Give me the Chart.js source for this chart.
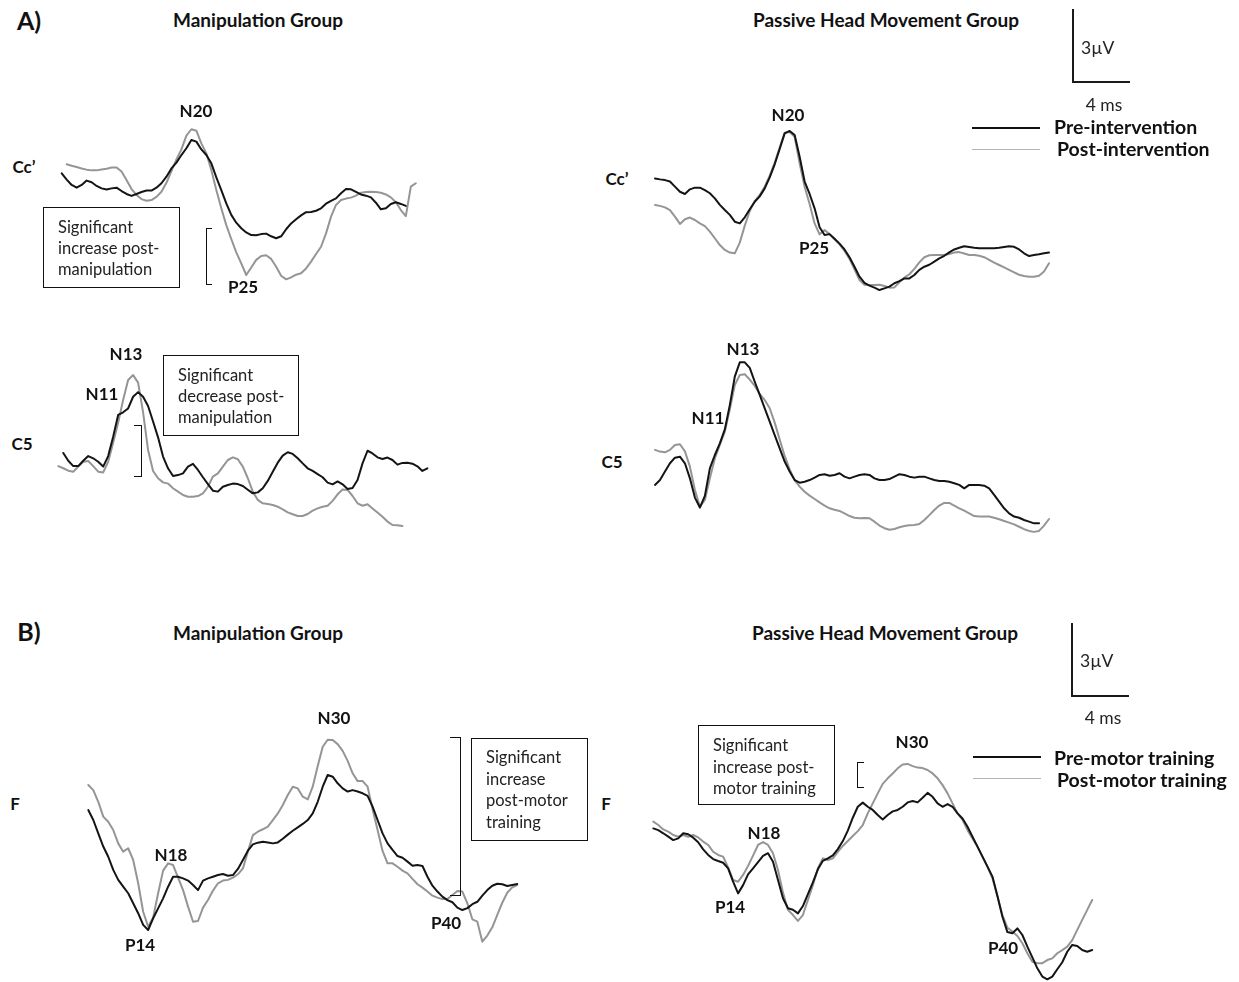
<!DOCTYPE html>
<html>
<head>
<meta charset="utf-8">
<script src="https://cdn.jsdelivr.net/npm/chart.js@4"></script>
<style>
  html, body { margin: 0; padding: 0; background: #fff; }
  body { width: 1239px; height: 982px; position: relative; overflow: hidden; font-family: Lato, "Open Sans", sans-serif; color: #111; }
  canvas { position: absolute; }
  .txt { position: absolute; transform: translate(-50%, -50%); white-space: nowrap; line-height: 1; }
  .txt.left { transform: translate(0, -50%); }
  .section { font-weight: 700; font-size: 25px; }
  .title { font-weight: 700; font-size: 19px; }
  .peak { font-weight: 700; font-size: 17px; }
  .lead { font-weight: 700; font-size: 17px; }
  .note { font-size: 16.5px; color: #222; }
  .scale { font-size: 17.5px; color: #222; }
  .legend { font-weight: 700; font-size: 19.5px; }
  .box { position: absolute; border: 1.5px solid #111; box-sizing: border-box; }
  .bracket { position: absolute; box-sizing: border-box; border: 1.5px solid #111; }
  .bracket.open { border-right: none; }
  .bracket.close { border-left: none; }
  .key { position: absolute; height: 0; }
</style>
</head>
<body>
<script>
// Averaged SEP traces, sampled every SAMPLE_MS milliseconds (amplitudes in µV)
const SAMPLE_MS = 0.35;
const PX_PER_MS = 14.25;
const PX_PER_UV = 24.33;
const SCALE_BAR_UV = 3;
const SCALE_BAR_MS = 4;

const PRE_COLOR = '#141414';
const POST_COLOR = '#959595';

// A) Cc' — manipulation group
const ccManipPre = [1.92,1.66,1.44,1.33,1.44,1.62,1.55,1.40,1.30,1.25,1.30,1.33,1.19,1.07,0.99,1.07,1.15,1.21,1.21,1.33,1.51,1.78,2.12,2.36,2.67,2.95,3.29,3.22,2.90,2.67,2.33,1.75,1.23,0.68,0.21,-0.11,-0.34,-0.51,-0.62,-0.63,-0.58,-0.56,-0.67,-0.75,-0.67,-0.38,-0.14,0.03,0.19,0.32,0.33,0.38,0.48,0.67,0.79,0.89,1.10,1.27,1.26,1.16,1.05,1.00,0.93,0.71,0.44,0.48,0.66,0.73,0.66,0.58];
const ccManipPost = [2.29,2.23,2.18,2.12,2.07,2.04,2.04,2.08,2.11,2.16,2.16,1.99,1.64,1.27,1.03,0.86,0.79,0.82,0.95,1.16,1.53,2.01,2.49,2.90,3.47,3.73,3.67,3.15,2.74,2.05,1.23,0.48,-0.21,-0.78,-1.33,-1.78,-2.26,-1.95,-1.64,-1.48,-1.45,-1.60,-1.92,-2.29,-2.44,-2.36,-2.25,-2.19,-1.99,-1.71,-1.40,-1.10,-0.55,0.14,0.62,0.82,0.88,0.92,1.00,1.12,1.15,1.16,1.15,1.12,1.05,0.93,0.73,0.41,0.16,1.37,1.51];

// A) Cc' — passive head movement group
const ccPassivePre = [1.71,1.67,1.64,1.58,1.37,1.16,1.07,1.26,1.33,1.33,1.23,1.10,0.89,0.62,0.41,0.21,-0.07,-0.14,0.11,0.44,0.75,0.97,1.30,1.75,2.29,2.92,3.56,3.66,3.49,2.60,1.58,1.07,0.48,-0.30,-0.62,-0.58,-0.77,-0.97,-1.21,-1.53,-1.92,-2.33,-2.58,-2.70,-2.78,-2.88,-2.81,-2.74,-2.60,-2.51,-2.40,-2.40,-2.26,-2.05,-1.92,-1.84,-1.71,-1.58,-1.47,-1.33,-1.21,-1.14,-1.08,-1.11,-1.14,-1.16,-1.16,-1.16,-1.16,-1.14,-1.11,-1.08,-1.10,-1.21,-1.37,-1.48,-1.44,-1.41,-1.37,-1.34];
const ccPassivePost = [0.62,0.58,0.52,0.41,0.14,-0.16,0.03,0.10,0.00,-0.14,-0.25,-0.48,-0.75,-1.03,-1.23,-1.34,-1.37,-0.93,-0.23,0.37,0.78,1.03,1.37,1.82,2.36,2.99,3.59,3.62,3.42,2.33,1.37,0.66,-0.14,-0.59,-0.41,-0.58,-0.79,-1.00,-1.27,-1.60,-2.03,-2.47,-2.66,-2.67,-2.67,-2.66,-2.71,-2.78,-2.77,-2.56,-2.37,-2.23,-2.01,-1.74,-1.53,-1.45,-1.44,-1.44,-1.44,-1.40,-1.34,-1.32,-1.38,-1.44,-1.44,-1.47,-1.53,-1.64,-1.75,-1.85,-1.95,-2.05,-2.15,-2.25,-2.30,-2.33,-2.33,-2.29,-2.12,-1.78];

// A) C5 — manipulation group
const c5ManipPre = [0.29,-0.03,-0.25,-0.25,-0.03,0.16,0.07,-0.07,-0.27,0.16,0.96,1.85,1.96,2.12,2.60,2.79,2.60,2.22,1.58,0.93,0.14,-0.34,-0.66,-0.62,-0.55,-0.27,-0.16,-0.41,-0.71,-0.99,-1.26,-1.30,-1.10,-1.03,-0.97,-0.99,-1.07,-1.22,-1.37,-1.33,-1.16,-0.86,-0.48,-0.11,0.18,0.32,0.25,0.07,-0.14,-0.34,-0.45,-0.58,-0.71,-0.93,-1.00,-0.88,-1.00,-1.19,-1.15,-0.82,-0.14,0.38,0.27,0.11,0.04,0.10,0.00,-0.19,-0.12,-0.11,-0.15,-0.26,-0.45,-0.34];
const c5ManipPost = [-0.25,-0.34,-0.44,-0.48,-0.27,-0.07,-0.04,-0.25,-0.48,-0.51,-0.07,0.71,1.53,2.47,3.29,3.49,3.18,1.96,0.41,-0.45,-0.75,-0.92,-0.97,-1.16,-1.30,-1.44,-1.51,-1.51,-1.48,-1.37,-1.10,-0.68,-0.55,-0.27,0.00,0.11,0.03,-0.27,-0.75,-1.30,-1.64,-1.78,-1.81,-1.85,-1.92,-2.03,-2.15,-2.23,-2.30,-2.30,-2.22,-2.08,-1.99,-1.92,-1.88,-1.68,-1.41,-1.21,-1.23,-1.48,-1.78,-1.88,-1.82,-1.99,-2.16,-2.33,-2.53,-2.67,-2.68,-2.71];

// A) C5 — passive head movement group
const c5PassivePre = [-1.23,-1.03,-0.68,-0.34,-0.11,-0.07,-0.34,-0.96,-1.75,-2.16,-1.68,-0.55,0.00,0.48,1.05,2.05,3.22,3.81,3.81,3.58,3.01,2.47,1.92,1.37,0.82,0.27,-0.27,-0.68,-1.03,-1.14,-1.10,-1.03,-0.93,-0.82,-0.79,-0.85,-0.82,-0.75,-0.89,-0.96,-0.89,-0.82,-0.79,-0.82,-0.96,-1.03,-1.03,-0.99,-0.89,-0.79,-0.82,-0.89,-0.93,-0.89,-0.89,-0.96,-1.03,-1.07,-1.07,-1.10,-1.16,-1.23,-1.37,-1.23,-1.23,-1.23,-1.26,-1.37,-1.64,-1.92,-2.19,-2.40,-2.53,-2.58,-2.67,-2.74,-2.81,-2.81];
const c5PassivePost = [0.21,0.14,0.11,0.21,0.41,0.44,0.15,-0.48,-1.44,-2.12,-1.85,-0.96,-0.14,0.41,0.96,1.88,2.88,3.29,3.32,3.10,2.84,2.51,2.26,1.92,1.33,0.64,-0.04,-0.59,-1.03,-1.30,-1.51,-1.67,-1.81,-1.95,-2.08,-2.19,-2.25,-2.30,-2.40,-2.51,-2.58,-2.60,-2.59,-2.60,-2.74,-2.90,-3.01,-3.07,-3.04,-2.97,-2.92,-2.89,-2.88,-2.84,-2.67,-2.47,-2.26,-2.08,-1.97,-1.97,-2.08,-2.19,-2.29,-2.40,-2.51,-2.53,-2.53,-2.53,-2.58,-2.64,-2.71,-2.78,-2.85,-2.95,-3.05,-3.12,-3.16,-3.12,-2.90,-2.63];

// B) F — manipulation group
const fManipPre = [0.82,0.41,-0.14,-0.68,-1.10,-1.64,-2.05,-2.33,-2.60,-3.01,-3.42,-3.90,-4.11,-3.63,-3.22,-2.81,-2.33,-1.92,-1.92,-1.99,-2.08,-2.26,-2.47,-2.08,-1.99,-1.92,-1.85,-1.81,-1.88,-1.85,-1.60,-1.23,-0.85,-0.59,-0.52,-0.48,-0.51,-0.55,-0.51,-0.36,-0.19,-0.03,0.11,0.25,0.41,0.68,1.16,1.78,2.26,2.19,1.92,1.71,1.58,1.64,1.58,1.51,1.40,0.96,0.41,-0.14,-0.55,-0.82,-1.07,-1.14,-1.30,-1.47,-1.44,-1.48,-1.92,-2.29,-2.53,-2.74,-2.88,-2.97,-3.19,-3.29,-3.21,-3.05,-2.95,-2.70,-2.47,-2.29,-2.21,-2.23,-2.30,-2.26,-2.22];
const fManipPost = [1.85,1.64,1.16,0.55,0.34,0.00,-0.55,-0.89,-0.75,-1.23,-2.19,-3.36,-3.97,-3.60,-2.60,-1.67,-1.37,-1.44,-1.96,-2.47,-3.15,-3.77,-3.74,-3.19,-2.88,-2.49,-2.19,-2.08,-2.05,-1.96,-1.82,-1.58,-0.89,-0.21,-0.07,0.03,0.14,0.41,0.68,1.03,1.44,1.78,1.71,1.37,1.26,1.78,2.63,3.42,3.71,3.70,3.53,3.25,2.84,2.33,2.01,2.01,1.78,0.85,0.00,-0.86,-1.37,-1.37,-1.51,-1.67,-1.78,-2.01,-2.23,-2.37,-2.53,-2.70,-2.78,-2.84,-2.84,-2.67,-2.51,-2.53,-3.01,-3.67,-3.77,-4.59,-4.34,-4.00,-3.49,-2.99,-2.58,-2.36,-2.26];

// B) F — passive head movement group
const fPassivePre = [2.12,2.05,1.92,1.78,1.64,1.71,1.92,1.88,1.74,1.55,1.26,1.03,0.86,0.78,0.71,0.48,-0.07,-0.55,-0.21,0.23,0.48,0.73,0.99,1.10,0.75,0.00,-0.75,-1.16,-1.22,-1.37,-1.07,-0.58,-0.10,0.44,0.79,0.89,1.01,1.27,1.60,2.03,2.56,3.01,3.18,3.01,2.88,2.67,2.49,2.67,2.82,2.88,3.01,3.19,3.25,3.19,3.38,3.58,3.42,3.15,3.01,3.12,3.01,2.74,2.53,2.19,1.78,1.37,0.96,0.55,0.14,-0.66,-1.51,-2.14,-2.19,-1.99,-2.26,-2.74,-3.18,-3.63,-3.97,-4.08,-3.97,-3.67,-3.38,-2.95,-2.67,-2.71,-2.88,-2.95,-2.88];
const fPassivePost = [2.40,2.26,2.08,1.99,1.85,1.78,1.85,1.78,1.85,1.75,1.58,1.44,1.16,1.03,0.96,0.52,0.00,-0.07,0.21,0.58,1.00,1.44,1.56,1.44,1.10,0.41,-0.52,-1.23,-1.44,-1.68,-1.44,-0.82,-0.21,0.48,0.89,0.82,0.89,1.16,1.40,1.60,1.81,2.01,2.26,2.74,3.15,3.56,3.95,4.18,4.38,4.59,4.75,4.77,4.68,4.62,4.60,4.52,4.38,4.18,3.90,3.56,3.15,2.74,2.47,2.05,1.71,1.37,0.96,0.55,0.07,-0.68,-1.44,-1.96,-2.12,-2.30,-2.60,-3.01,-3.36,-3.42,-3.42,-3.29,-3.22,-3.01,-2.88,-2.74,-2.47,-2.05,-1.64,-1.23,-0.82];

// first sample index of each trace within its panel
const onsets = {
  ccManipPre: 0, ccManipPost: 1,
  ccPassivePre: 0, ccPassivePost: 0,
  c5ManipPre: 1, c5ManipPost: 0,
  c5PassivePre: 0, c5PassivePost: 0,
  fManipPre: 0, fManipPost: 0,
  fPassivePre: 0, fPassivePost: 0
};

function toPoints(values, start) {
  return values.map((v, i) => ({ x: (start + i) * SAMPLE_MS, y: v }));
}

// A chart canvas whose scales keep the common µV / ms calibration.
// box: canvas rectangle on the page; origin: page position of t = 0, 0 µV.
function makeChart(box, origin, datasets) {
  const c = document.createElement('canvas');
  c.width = box.w; c.height = box.h;
  c.style.left = box.x + 'px'; c.style.top = box.y + 'px';
  c.style.width = box.w + 'px'; c.style.height = box.h + 'px';
  document.body.appendChild(c);
  return new Chart(c, {
    type: 'line',
    data: { datasets },
    options: {
      responsive: false,
      animation: false,
      events: [],
      devicePixelRatio: 1,
      layout: { padding: 0 },
      plugins: { legend: { display: false }, tooltip: { enabled: false } },
      elements: {
        point: { radius: 0 },
        line: { tension: 0, borderJoinStyle: 'round', borderCapStyle: 'round' }
      },
      scales: {
        x: {
          type: 'linear', display: false,
          min: (box.x - origin.x) / PX_PER_MS,
          max: (box.x + box.w - origin.x) / PX_PER_MS
        },
        y: {
          type: 'linear', display: false,
          min: -(box.y + box.h - origin.y) / PX_PER_UV,
          max: (origin.y - box.y) / PX_PER_UV
        }
      }
    }
  });
}

function tracePair(pre, preStart, post, postStart) {
  return [
    { data: toPoints(pre, preStart), borderColor: PRE_COLOR, borderWidth: 2, fill: false },
    { data: toPoints(post, postStart), borderColor: POST_COLOR, borderWidth: 2, fill: false }
  ];
}

makeChart({ x: 40, y: 110, w: 400, h: 200 }, { x: 61.7, y: 220 },
  tracePair(ccManipPre, onsets.ccManipPre, ccManipPost, onsets.ccManipPost));
makeChart({ x: 640, y: 110, w: 420, h: 200 }, { x: 655, y: 220 },
  tracePair(ccPassivePre, onsets.ccPassivePre, ccPassivePost, onsets.ccPassivePost));
makeChart({ x: 40, y: 355, w: 410, h: 190 }, { x: 58.3, y: 460 },
  tracePair(c5ManipPre, onsets.c5ManipPre, c5ManipPost, onsets.c5ManipPost));
makeChart({ x: 640, y: 350, w: 420, h: 200 }, { x: 655, y: 455 },
  tracePair(c5PassivePre, onsets.c5PassivePre, c5PassivePost, onsets.c5PassivePost));
makeChart({ x: 70, y: 715, w: 470, h: 260 }, { x: 88.3, y: 830 },
  tracePair(fManipPre, onsets.fManipPre, fManipPost, onsets.fManipPost));
makeChart({ x: 640, y: 740, w: 480, h: 242 }, { x: 653.3, y: 880 },
  tracePair(fPassivePre, onsets.fPassivePre, fPassivePost, onsets.fPassivePost));

// calibration bars: SCALE_BAR_UV µV by SCALE_BAR_MS ms
function scaleBar(box, origin) {
  makeChart(box, origin, [{
    data: [{ x: 0, y: SCALE_BAR_UV }, { x: 0, y: 0 }, { x: SCALE_BAR_MS, y: 0 }],
    borderColor: '#1a1a1a', borderWidth: 2, fill: false,
    borderJoinStyle: 'miter', borderCapStyle: 'butt'
  }]);
}
scaleBar({ x: 1060, y: 0, w: 90, h: 95 }, { x: 1073, y: 82 });
scaleBar({ x: 1060, y: 613, w: 90, h: 95 }, { x: 1072, y: 696 });

// ---- text and annotation layer ----
function text(str, x, y, cls, left) {
  const d = document.createElement('div');
  d.className = 'txt ' + cls + (left ? ' left' : '');
  d.textContent = str;
  d.style.left = x + 'px';
  d.style.top = y + 'px';
  document.body.appendChild(d);
}
function rect(cls, x, y, w, h) {
  const d = document.createElement('div');
  d.className = cls;
  d.style.left = x + 'px'; d.style.top = y + 'px';
  d.style.width = w + 'px'; d.style.height = h + 'px';
  document.body.appendChild(d);
}

text('A)', 29, 20, 'section');
text('B)', 29, 631, 'section');
text('Manipulation Group', 258, 19, 'title');
text('Passive Head Movement Group', 886, 19, 'title');
text('Manipulation Group', 258, 632, 'title');
text('Passive Head Movement Group', 885, 632, 'title');

// channel names
text('Cc\u2019', 24, 166, 'lead');
text('C5', 22, 443, 'lead');
text('Cc\u2019', 617, 178, 'lead');
text('C5', 612, 461, 'lead');
text('F', 15, 803, 'lead');
text('F', 606, 803, 'lead');

// component labels
text('N20', 196, 110, 'peak');
text('P25', 243, 286, 'peak');
text('N13', 126, 353, 'peak');
text('N11', 102, 393, 'peak');
text('N20', 788, 114, 'peak');
text('P25', 814, 247, 'peak');
text('N13', 743, 348, 'peak');
text('N11', 708, 417, 'peak');
text('N30', 334, 717, 'peak');
text('N18', 171, 854, 'peak');
text('P14', 140, 944, 'peak');
text('P40', 446, 922, 'peak');
text('N30', 912, 741, 'peak');
text('N18', 764, 832, 'peak');
text('P14', 730, 906, 'peak');
text('P40', 1003, 947, 'peak');

// significance notes
rect('box', 43, 207, 137, 81);
text('Significant', 58, 227, 'note', true);
text('increase post-', 58, 248, 'note', true);
text('manipulation', 58, 269, 'note', true);
rect('bracket open', 206, 228, 6, 57);

rect('box', 163, 355, 136, 81);
text('Significant', 178, 375, 'note', true);
text('decrease post-', 178, 396, 'note', true);
text('manipulation', 178, 417, 'note', true);
rect('bracket close', 134, 425, 8, 52);

rect('box', 471, 738, 117, 103);
text('Significant', 486, 757, 'note', true);
text('increase', 486, 779, 'note', true);
text('post-motor', 486, 800, 'note', true);
text('training', 486, 822, 'note', true);
rect('bracket close', 450, 737, 11, 159);

rect('box', 698, 725, 137, 80);
text('Significant', 713, 745, 'note', true);
text('increase post-', 713, 767, 'note', true);
text('motor training', 713, 788, 'note', true);
rect('bracket open', 857, 762, 7, 26);

// calibration labels
text('3\u00b5V', 1081, 48, 'scale', true);
text('4 ms', 1104, 105, 'scale');
text('3\u00b5V', 1080, 661, 'scale', true);
text('4 ms', 1103, 718, 'scale');

// legends
function key(x, y, w, color, width) {
  const d = document.createElement('div');
  d.className = 'key';
  d.style.left = x + 'px'; d.style.top = (y - width / 2) + 'px';
  d.style.width = w + 'px';
  d.style.borderTop = width + 'px solid ' + color;
  document.body.appendChild(d);
}
key(972, 128, 68, '#111', 2);
key(972, 150, 68, '#b4b4b4', 1.5);
text('Pre-intervention', 1054, 127, 'legend', true);
text('Post-intervention', 1057, 149, 'legend', true);
key(973, 757, 68, '#111', 2);
key(973, 779, 68, '#b4b4b4', 1.5);
text('Pre-motor training', 1054, 758, 'legend', true);
text('Post-motor training', 1057, 780, 'legend', true);
</script>
</body>
</html>
